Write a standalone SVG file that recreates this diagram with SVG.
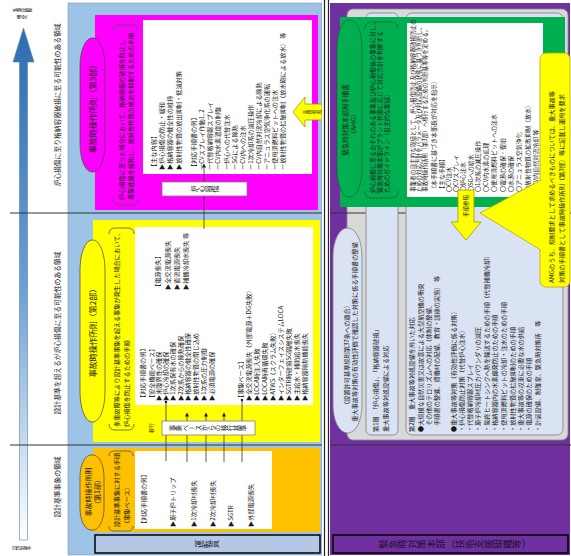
<svg xmlns="http://www.w3.org/2000/svg" width="571" height="556" viewBox="0 0 571 556">
<style>
text{font-family:"Noto Sans CJK JP","Noto Sans CJK SC",sans-serif;fill:#1a1a1a}
.v{font-size:6.2px;dominant-baseline:central}
.vm{font-size:6.2px;dominant-baseline:central;text-anchor:middle}
.tg{writing-mode:vertical-rl;text-anchor:middle}
.lbl{font-size:6.8px}
.sm{font-size:5.6px}
.pill{stroke:#444;stroke-width:0.7}
.wb{fill:#fff}
.brk{fill:none;stroke:#555;stroke-width:0.8}
.lb{fill:#dae3f3;stroke:#7f7f7f;stroke-width:0.8}
.con{stroke:#333;stroke-width:0.8;fill:none}
.sep{stroke:#333;stroke-width:1}
.arr{fill:#ffff00;stroke:#9a9a00;stroke-width:0.8}
</style>
<defs>
<linearGradient id="ag" gradientUnits="userSpaceOnUse" x1="0" y1="540" x2="0" y2="30">
<stop offset="0" stop-color="#ffffff"/><stop offset="0.5" stop-color="#6a9fd4"/><stop offset="1" stop-color="#2e6db0"/>
</linearGradient>
<marker id="ah" viewBox="0 0 10 10" refX="9" refY="5" markerWidth="5" markerHeight="5" orient="auto"><path d="M0,0 L10,5 L0,10 Z" fill="#222"/></marker>
<marker id="dot" viewBox="0 0 10 10" refX="5" refY="5" markerWidth="4" markerHeight="4"><circle cx="5" cy="5" r="4" fill="#222"/></marker>
</defs>
<rect width="571" height="556" fill="#fff"/>

<!-- axis strip -->
<g id="axis">
<path d="M19.5,540 H27.5 V62 H34 L23.5,28 L13,62 H19.5 Z" fill="url(#ag)" stroke="#5b7fa6" stroke-width="0.6"/>
<text class="tg" style="font-size:4.6px" transform="translate(22 10) rotate(-90)">多重故障</text>
<text class="tg" style="font-size:4.6px" transform="translate(22 17) rotate(-90)">想定</text>
<text class="tg" style="font-size:4.6px" transform="translate(21 548) rotate(-90)">設計基準</text>
<text class="vm lbl" transform="translate(57 105) rotate(-90)">炉心損傷に至り格納容器破損に至る可能性のある領域</text>
<text class="vm lbl" transform="translate(57 333) rotate(-90)">設計基準を超えるが炉心損傷に至る可能性のある領域</text>
<text class="vm lbl" transform="translate(57 487) rotate(-90)">設計基準事象の領域</text>
</g>

<!-- panels -->
<rect x="68" y="3" width="254" height="552" fill="#9dc3e6" stroke="#8497b0" stroke-width="0.6"/>
<rect x="330" y="3" width="240" height="552" fill="#7030a0"/>
<rect x="347" y="9" width="221" height="431" rx="6" fill="#d9d9d9" stroke="#8c8c8c" stroke-width="0.8"/>

<g id="separators">
<line class="sep" x1="10" y1="213" x2="571" y2="213"/>
<line class="sep" x1="10" y1="445" x2="571" y2="445"/>
</g>

<!-- layer 3 (magenta) -->
<g id="layer3">
<rect x="95" y="15" width="223" height="195" fill="#ff00ff"/>
<rect class="pill" x="80" y="38" width="25" height="134" rx="12" ry="28" fill="#ff00ff"/>
<text class="vm" style="font-size:8px" transform="translate(92.5 107) rotate(-90)">事故時操作所則（第3部）</text>
<path class="brk" d="M113,31 Q113,25 119,25 L132,25 Q138,25 138,31 M113,199 Q113,205 119,205 L132,205 Q138,205 138,199"/>
<text class="v" transform="translate(121 200) rotate(-90)">炉心損傷に至った場合において、格納容器の破損を防止し、</text>
<text class="v" transform="translate(130 200) rotate(-90)">事象進展を緩和し、放射性物質の放出を抑制するための手順</text>
<rect class="wb" x="143" y="20" width="169" height="154"/>
<text class="v" transform="translate(153 170) rotate(-90)">【主な内容】</text>
<text class="v" transform="translate(161 170) rotate(-90)">▶炉心損傷の防止・緩和</text>
<text class="v" transform="translate(169 170) rotate(-90)">▶格納容器の健全性の維持</text>
<text class="v" transform="translate(178 170) rotate(-90)">▶放射性物質の放出抑制・低減対策</text>
<text class="v" transform="translate(193 170) rotate(-90)">【対応手順書の例】</text>
<text class="v" transform="translate(201 170) rotate(-90)">ーCVスプレイ作動1, 2</text>
<text class="v" transform="translate(209 170) rotate(-90)">ー代替格納容器スプレイ</text>
<text class="v" transform="translate(217 170) rotate(-90)">ーCV内水素濃度の制御</text>
<text class="v" transform="translate(226 170) rotate(-90)">ー炉心への代替注水</text>
<text class="v" transform="translate(234 170) rotate(-90)">ーSGによる除熱</text>
<text class="v" transform="translate(242 170) rotate(-90)">ーCV内への注水</text>
<text class="v" transform="translate(250 170) rotate(-90)">ー1次冷却系の減圧操作</text>
<text class="v" transform="translate(258 170) rotate(-90)">ーCV内自然対流冷却による除熱</text>
<text class="v" transform="translate(266 170) rotate(-90)">ーアニュラス空気浄化系の運転</text>
<text class="v" transform="translate(274 170) rotate(-90)">ー使用済燃料ピットへの注水</text>
<text class="v" transform="translate(282 170) rotate(-90)">ー放射性物質の拡散抑制（放水砲による放水） 等</text>
</g>

<!-- layer 2 (yellow) -->
<g id="layer2">
<rect x="93" y="220" width="227" height="222" fill="#ffff00"/>
<rect class="pill" x="80" y="240" width="25" height="182" rx="12" ry="30" fill="#ffff00"/>
<text class="vm" style="font-size:8px" transform="translate(92.5 331) rotate(-90)">事故時操作所則（第2部）</text>
<path class="brk" d="M109,234 Q109,228 115,228 L128,228 Q134,228 134,234 M109,424 Q109,430 115,430 L128,430 Q134,430 134,424"/>
<text class="v" transform="translate(116 427) rotate(-90)">多重故障等により設計基準事象を超える事象が発生した場合において、</text>
<text class="v" transform="translate(126 427) rotate(-90)">炉心損傷を防止するための手順</text>
<rect class="wb" x="135" y="227" width="178" height="178"/>
<text class="v" transform="translate(142 401) rotate(-90)">【対応手順書の例】</text>
<text class="v" transform="translate(151 401) rotate(-90)">【安全機能ベース】</text>
<text class="v" transform="translate(158 401) rotate(-90)">▶未臨界性の確保</text>
<text class="v" transform="translate(165 401) rotate(-90)">▶炉心冷却の確保</text>
<text class="v" transform="translate(172 401) rotate(-90)">▶1次系保有水の確保</text>
<text class="v" transform="translate(180 401) rotate(-90)">▶2次系からの除熱確保</text>
<text class="v" transform="translate(187 401) rotate(-90)">▶格納容器の健全性確保</text>
<text class="v" transform="translate(195 401) rotate(-90)">▶放射性物質の閉じ込め</text>
<text class="v" transform="translate(203 401) rotate(-90)">▶1次系の圧力制御</text>
<text class="v" transform="translate(211 401) rotate(-90)">▶必須電源の確保</text>
<text class="v" transform="translate(157 290) rotate(-90)">【電源喪失】</text>
<text class="v" transform="translate(167 290) rotate(-90)">▶全交流電源喪失</text>
<text class="v" transform="translate(176 290) rotate(-90)">▶直流電源喪失</text>
<text class="v" transform="translate(185 290) rotate(-90)">▶補機冷却水喪失 等</text>
<text class="v" transform="translate(240 401) rotate(-90)">【事象ベース】</text>
<text class="v" transform="translate(248 401) rotate(-90)">▶全交流電源喪失（外部電源＋DG失敗）</text>
<text class="v" transform="translate(256 401) rotate(-90)">▶LOCA時注入失敗</text>
<text class="v" transform="translate(264 401) rotate(-90)">▶LOCA時再循環失敗</text>
<text class="v" transform="translate(272 401) rotate(-90)">▶ATWS（スクラム失敗）</text>
<text class="v" transform="translate(280 401) rotate(-90)">▶インターフェイスシステムLOCA</text>
<text class="v" transform="translate(288 401) rotate(-90)">▶SGTR時破損SG隔離失敗</text>
<text class="v" transform="translate(296 401) rotate(-90)">▶主給水・補助給水喪失</text>
<text class="v" transform="translate(304 401) rotate(-90)">▶格納容器除熱機能喪失</text>
</g>

<!-- layer 1 (orange) -->
<g id="layer1">
<rect x="93" y="448" width="227" height="84" fill="#ffc000"/>
<rect class="pill" x="80" y="455" width="24" height="75" rx="11" ry="22" fill="#ffc000"/>
<text class="vm" style="font-size:7px" transform="translate(87.5 492) rotate(-90)">事故時操作所則</text>
<text class="vm" style="font-size:7px" transform="translate(96.5 492) rotate(-90)">（第1部）</text>
<path class="brk" d="M109,456 Q109,451 114,451 L128,451 Q133,451 133,456 M109,526 Q109,531 114,531 L128,531 Q133,531 133,526"/>
<text class="v" transform="translate(116 527) rotate(-90)">設計基準事象に対する手順</text>
<text class="v" transform="translate(126 527) rotate(-90)">（事象ベース）</text>
<rect class="wb" x="135" y="451" width="137" height="78"/>
<text class="v" transform="translate(143 527) rotate(-90)">【対応手順書の例】</text>
<text class="v" transform="translate(172 527) rotate(-90)">▶原子炉トリップ</text>
<text class="v" transform="translate(193 527) rotate(-90)">▶1次冷却材喪失</text>
<text class="v" transform="translate(212 527) rotate(-90)">▶2次冷却材喪失</text>
<text class="v" transform="translate(230 527) rotate(-90)">▶SGTR</text>
<text class="v" transform="translate(250 527) rotate(-90)">▶外部電源喪失</text>
</g>

<g id="operator-label">
<rect x="95" y="535" width="225" height="18" fill="#b4c7e7" stroke="#000" stroke-width="1.5"/>
<text class="tg" style="font-size:8px" transform="translate(207 544) rotate(-90)">運転員</text>
</g>

<!-- right: AMG area -->
<g id="sa-area">
<rect class="lb" x="366" y="13" width="32" height="422" rx="5"/>
<rect class="lb" x="406" y="13" width="157" height="422" rx="6"/>
<rect class="lb" x="333" y="228" width="29" height="205" rx="14" ry="28"/>
<text class="vm" transform="translate(346 355) rotate(-90)">（設置許可基準規則第37条への適合）</text>
<text class="vm" transform="translate(354 332) rotate(-90)">重大事故等対策の有効性評価で確認した対策に係る手順書の整備</text>
<text class="v" transform="translate(375 432) rotate(-90)">第1層　「炉心損傷」、「格納容器破損」</text>
<text class="v" transform="translate(385 432) rotate(-90)">重大事故等対処設備による対応</text>
<text class="v" transform="translate(411 432) rotate(-90)">第2層　重大事故等対処設備を用いた対応</text>
<text class="v" transform="translate(420 432) rotate(-90)">●大規模な自然災害又は故意による大型航空機の衝突</text>
<text class="v" transform="translate(428 432) rotate(-90)">　その他のテロリズムへの対応（体制の整備、</text>
<text class="v" transform="translate(436 432) rotate(-90)">　手順書の整備、資機材の配備、教育・訓練の実施） 等</text>
<text class="v" transform="translate(453 432) rotate(-90)">●重大事故等対策（有効性評価に係る対策）</text>
<text class="v" transform="translate(461 432) rotate(-90)">・炉心損傷防止対策（代替炉心注水）</text>
<text class="v" transform="translate(469 432) rotate(-90)">・代替格納容器スプレイ</text>
<text class="v" transform="translate(477 432) rotate(-90)">・原子炉冷却材圧力バウンダリの減圧</text>
<text class="v" transform="translate(486 432) rotate(-90)">・最終ヒートシンクへ熱を輸送するための手順（代替補機冷却）</text>
<text class="v" transform="translate(494 432) rotate(-90)">・格納容器内の水素爆発防止のための手順</text>
<text class="v" transform="translate(503 432) rotate(-90)">・使用済燃料ピットの冷却・注水のための手順</text>
<text class="v" transform="translate(512 432) rotate(-90)">・放射性物質の拡散抑制のための手順</text>
<text class="v" transform="translate(520 432) rotate(-90)">・重大事故等の収束に必要な水の供給</text>
<text class="v" transform="translate(528 432) rotate(-90)">・電源の確保のための手順</text>
<text class="v" transform="translate(537 432) rotate(-90)">・計装設備、制御室、緊急時対策所　等</text>
</g>

<g id="amg">
<rect x="340" y="17" width="225" height="190" fill="#00b050"/>
<rect x="337" y="20" width="25" height="177" rx="12" ry="28" fill="#00b050" stroke="#1e5e30" stroke-width="0.7"/>
<text class="vm" style="font-size:6.5px" transform="translate(345 120) rotate(-90)">緊急時対策本部用手順書</text>
<text class="vm" style="font-size:6.5px" transform="translate(353 124) rotate(-90)">（AMG）</text>
<path d="M365,29 Q365,22 372,22 L391,22 Q398,22 398,29 M365,191 Q365,198 372,198 L391,198 Q398,198 398,191" fill="none" stroke="#1e5e30" stroke-width="0.8"/>
<text class="v" style="font-size:6px" transform="translate(372 193) rotate(-90)">炉心損傷に至るおそれのある事象及び炉心損傷後の事象に対し、</text>
<text class="v" style="font-size:6px" transform="translate(379 193) rotate(-90)">緊急時対策本部がプラント状態に応じて対応方針を判断する</text>
<text class="v" style="font-size:6px" transform="translate(386 193) rotate(-90)">ためのガイドライン（自主的な取組）</text>
<rect class="wb" x="407" y="23" width="136" height="174"/>
<text class="v sm" transform="translate(413 192) rotate(-90)">事業者の自主的な取組として、炉心損傷防止及び格納容器破損防止の</text>
<text class="v sm" transform="translate(419 192) rotate(-90)">ための対応方針をパラメータ及び対応設備の状態に基づき判断し、</text>
<text class="v sm" transform="translate(425 192) rotate(-90)">事故時操作所則（第3部）へ移行するための判断基準等を定める。</text>
<text class="v" style="font-size:6px" transform="translate(433 192) rotate(-90)">（本手順書に基づき本部長が対応を指示）</text>
<text class="v" style="font-size:6px" transform="translate(441 192) rotate(-90)">【主な手順】</text>
<text class="v" style="font-size:6px" transform="translate(448 192) rotate(-90)">〇CV注水</text>
<text class="v" style="font-size:6px" transform="translate(455 192) rotate(-90)">〇CVスプレイ</text>
<text class="v" style="font-size:6px" transform="translate(462 192) rotate(-90)">〇炉心注水</text>
<text class="v" style="font-size:6px" transform="translate(470 192) rotate(-90)">〇SGへの給水</text>
<text class="v" style="font-size:6px" transform="translate(477 192) rotate(-90)">〇1次系の減圧操作</text>
<text class="v" style="font-size:6px" transform="translate(485 192) rotate(-90)">〇CV内水素の処理</text>
<text class="v" style="font-size:6px" transform="translate(493 192) rotate(-90)">〇使用済燃料ピットへの注水</text>
<text class="v" style="font-size:6px" transform="translate(502 192) rotate(-90)">〇電源の確保・復旧</text>
<text class="v" style="font-size:6px" transform="translate(510 192) rotate(-90)">〇水源の確保</text>
<text class="v" style="font-size:6px" transform="translate(518 192) rotate(-90)">〇アニュラス空気浄化</text>
<text class="v" style="font-size:6px" transform="translate(527 192) rotate(-90)">〇放射性物質の拡散抑制（放水）</text>
<text class="v" style="font-size:6px" transform="translate(535 192) rotate(-90)">〇CV内自然対流冷却 等</text>
</g>

<g id="callout">
<path d="M541,180 L480,213 L541,250 Z" fill="#ffff00"/>
<rect x="540" y="53" width="30" height="234" rx="6" fill="#ffff00" stroke="#b8a800" stroke-width="0.8"/>
<path d="M541,180 L480,213 L541,250" fill="none" stroke="#b8a800" stroke-width="0.8"/>
<rect x="539" y="181" width="3" height="68" fill="#ffff00"/>
<text class="v" transform="translate(551 283) rotate(-90)">AMGのうち、規制要求として求めるべきものについては、重大事故等</text>
<text class="v" transform="translate(561 283) rotate(-90)">対策の手順書として事故時操作所則（第3部）等に記載し運用を要求</text>
</g>

<g id="ref-arrows">
<polygon class="arr" points="458,190 474,190 474,222 481,222 466,240 451,222 458,222"/>
<text class="vm" style="font-size:5.5px" transform="translate(466 206) rotate(-90)">手順参照</text>
<polygon class="arr" points="322,104 305,104 305,97 293,112 305,127 305,120 322,120"/>
<text class="tg" style="font-size:4.6px" transform="translate(312 112) rotate(-90)">手順参照</text>
</g>

<g id="hq-label">
<rect x="333" y="535" width="235" height="18" fill="#7030a0" stroke="#000" stroke-width="1.5"/>
<text class="tg" style="font-size:9.5px;fill:#1a1030" transform="translate(455 544) rotate(-90)">緊急時対策本部（技術支援組織等）</text>
</g>

<!-- connectors -->
<g id="connectors">
<line class="con" x1="204" y1="229" x2="204" y2="164" marker-end="url(#ah)"/>
<line class="con" x1="166" y1="402" x2="166" y2="461" marker-start="url(#dot)"/>
<line class="con" x1="242" y1="400" x2="242" y2="462" marker-start="url(#dot)"/>
<line class="con" x1="187" y1="462" x2="187" y2="413" marker-end="url(#ah)"/>
<line class="con" x1="206" y1="462" x2="206" y2="413" marker-end="url(#ah)"/>
<line class="con" x1="224" y1="462" x2="224" y2="413" marker-end="url(#ah)"/>
</g>

<g id="transition-labels">
<rect x="162" y="182" width="85" height="14" fill="#fff" stroke="#7f7f7f" stroke-width="0.8"/>
<text class="tg" style="font-size:7px" transform="translate(205 189) rotate(-90)">炉心損傷</text>
<rect x="162" y="421" width="93" height="14" fill="#fff" stroke="#7f7f7f" stroke-width="0.8"/>
<text class="tg" style="font-size:6.5px" transform="translate(208 428) rotate(-90)">事象ベースからの移行基準</text>
<text class="vm" style="font-size:5px" transform="translate(150 428) rotate(-90)">移行</text>
</g>

<g id="divider">
<rect x="322" y="0" width="8" height="556" fill="#fff"/>
<line x1="324.5" y1="0" x2="324.5" y2="556" stroke="#222" stroke-width="1.2"/>
<line x1="328.5" y1="0" x2="328.5" y2="556" stroke="#222" stroke-width="1.2"/>
</g>
</svg>
